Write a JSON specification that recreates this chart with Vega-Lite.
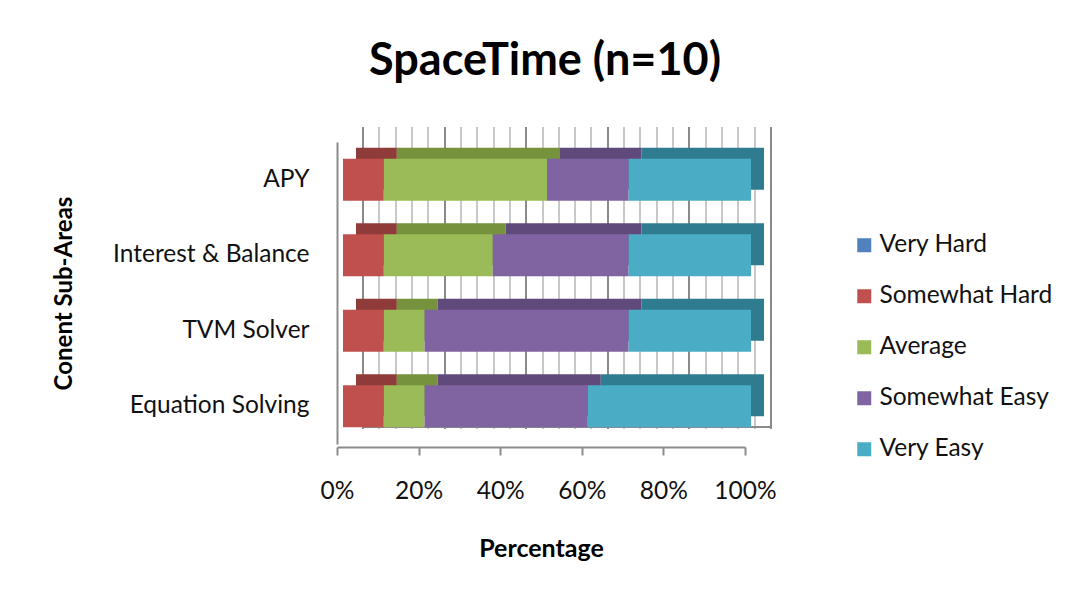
{
  "$schema": "https://vega.github.io/schema/vega-lite/v6.json",
  "width": 408,
  "height": 302,
  "autosize": {"type": "none"},
  "padding": {"left": 337, "top": 142, "right": 334, "bottom": 158},
  "background": "white",
  "title": {
    "text": "SpaceTime (n=10)",
    "font": "Lato",
    "fontSize": 45,
    "fontWeight": "bold",
    "color": "#000000",
    "anchor": "middle",
    "frame": "group",
    "offset": 58,
    "dx": 4
  },
  "data": {
    "values": [
      {"area": "APY", "level": "Very Hard", "code": 1, "pct": 0},
      {"area": "APY", "level": "Somewhat Hard", "code": 2, "pct": 10},
      {"area": "APY", "level": "Average", "code": 3, "pct": 40},
      {"area": "APY", "level": "Somewhat Easy", "code": 4, "pct": 20},
      {"area": "APY", "level": "Very Easy", "code": 5, "pct": 30},
      {"area": "Interest & Balance", "level": "Very Hard", "code": 1, "pct": 0},
      {"area": "Interest & Balance", "level": "Somewhat Hard", "code": 2, "pct": 10},
      {"area": "Interest & Balance", "level": "Average", "code": 3, "pct": 26.7},
      {"area": "Interest & Balance", "level": "Somewhat Easy", "code": 4, "pct": 33.3},
      {"area": "Interest & Balance", "level": "Very Easy", "code": 5, "pct": 30},
      {"area": "TVM Solver", "level": "Very Hard", "code": 1, "pct": 0},
      {"area": "TVM Solver", "level": "Somewhat Hard", "code": 2, "pct": 10},
      {"area": "TVM Solver", "level": "Average", "code": 3, "pct": 10},
      {"area": "TVM Solver", "level": "Somewhat Easy", "code": 4, "pct": 50},
      {"area": "TVM Solver", "level": "Very Easy", "code": 5, "pct": 30},
      {"area": "Equation Solving", "level": "Very Hard", "code": 1, "pct": 0},
      {"area": "Equation Solving", "level": "Somewhat Hard", "code": 2, "pct": 10},
      {"area": "Equation Solving", "level": "Average", "code": 3, "pct": 10},
      {"area": "Equation Solving", "level": "Somewhat Easy", "code": 4, "pct": 40},
      {"area": "Equation Solving", "level": "Very Easy", "code": 5, "pct": 40}
    ]
  },
  "encoding": {
    "order": {"field": "code", "type": "quantitative"}
  },
  "layer": [
    {
      "mark": {"type": "bar", "xOffset": 19, "x2Offset": 19, "yOffset": -11},
      "encoding": {
        "y": {
          "field": "area",
          "type": "nominal",
          "sort": ["APY", "Interest & Balance", "TVM Solver", "Equation Solving"],
          "scale": {"paddingInner": 0.445, "paddingOuter": 0.2225},
          "axis": {
            "orient": "right",
            "title": null,
            "labels": false,
            "ticks": false,
            "domain": false,
            "grid": true,
            "bandPosition": 1,
            "translate": 26,
            "tickOffset": -26,
            "gridColor": "#8a8a8a",
            "gridWidth": 2,
            "gridOpacity": {
              "condition": {"test": "datum.value === 'Equation Solving'", "value": 1},
              "value": 0
            }
          }
        },
        "x": {
          "field": "pct",
          "type": "quantitative",
          "stack": "normalize",
          "axis": {
            "orient": "top",
            "title": null,
            "labels": false,
            "ticks": false,
            "domain": false,
            "grid": true,
            "values": [0, 0.04, 0.08, 0.12, 0.16, 0.2, 0.24, 0.28, 0.32, 0.36, 0.4, 0.44, 0.48, 0.52, 0.56, 0.6, 0.64, 0.68, 0.72, 0.76, 0.8, 0.84, 0.88, 0.92, 0.96, 1],
            "tickOffset": 41,
            "translate": -15,
            "gridWidth": 2,
            "gridColor": {
              "condition": {"test": "abs(datum.value * 5 - round(datum.value * 5)) < 0.001", "value": "#8a8a8a"},
              "value": "#c8c8c8"
            }
          }
        },
        "color": {
          "field": "level",
          "type": "nominal",
          "scale": {
            "domain": ["Very Hard", "Somewhat Hard", "Average", "Somewhat Easy", "Very Easy"],
            "range": ["#3A6291", "#8E3B39", "#76923C", "#5F4A7B", "#2F7C90"]
          },
          "legend": null
        }
      }
    },
    {
      "mark": {"type": "bar", "xOffset": 6, "x2Offset": 6},
      "encoding": {
        "y": {
          "field": "area",
          "type": "nominal",
          "sort": ["APY", "Interest & Balance", "TVM Solver", "Equation Solving"],
          "scale": {"paddingInner": 0.445, "paddingOuter": 0.2225},
          "axis": {
            "orient": "left",
            "title": "Conent Sub-Areas",
            "titleFont": "Lato",
            "titleFontSize": 24,
            "titleFontWeight": "bold",
            "titleColor": "#000000",
            "titlePadding": 61,
            "labelFont": "Lato",
            "labelFontSize": 24.5,
            "labelColor": "#111111",
            "labelPadding": 28,
            "labelLimit": 0,
            "ticks": false,
            "grid": false,
            "domainColor": "#8c8c8c",
            "domainWidth": 2
          }
        },
        "x": {
          "field": "pct",
          "type": "quantitative",
          "stack": "normalize",
          "axis": {
            "orient": "bottom",
            "title": "Percentage",
            "titleFont": "Lato",
            "titleFontSize": 25,
            "titleFontWeight": "bold",
            "titleColor": "#000000",
            "titlePadding": 34,
            "format": ".0%",
            "values": [0, 0.2, 0.4, 0.6, 0.8, 1],
            "labelFlush": false,
            "labelOverlap": false,
            "grid": false,
            "offset": 3,
            "tickSize": 8,
            "tickColor": "#8c8c8c",
            "tickWidth": 2,
            "domainColor": "#8c8c8c",
            "domainWidth": 2,
            "labelFont": "Lato",
            "labelFontSize": 24.5,
            "labelColor": "#111111",
            "labelPadding": 24
          }
        },
        "color": {
          "field": "level",
          "type": "nominal",
          "scale": {
            "domain": ["Very Hard", "Somewhat Hard", "Average", "Somewhat Easy", "Very Easy"],
            "range": ["#4F81BD", "#C0504D", "#9BBB59", "#8064A2", "#4BACC6"]
          },
          "legend": {
            "orient": "none",
            "legendX": 515,
            "legendY": 91,
            "title": null,
            "symbolType": "square",
            "symbolSize": 196,
            "symbolStrokeWidth": 0,
            "labelFont": "Lato",
            "labelFontSize": 24.5,
            "labelColor": "#111111",
            "labelLimit": 0,
            "labelOffset": 3,
            "rowPadding": 26,
            "padding": 0
          }
        }
      }
    }
  ],
  "resolve": {"scale": {"color": "independent"}, "axis": {"x": "independent", "y": "independent"}},
  "config": {"view": {"stroke": null}}
}
